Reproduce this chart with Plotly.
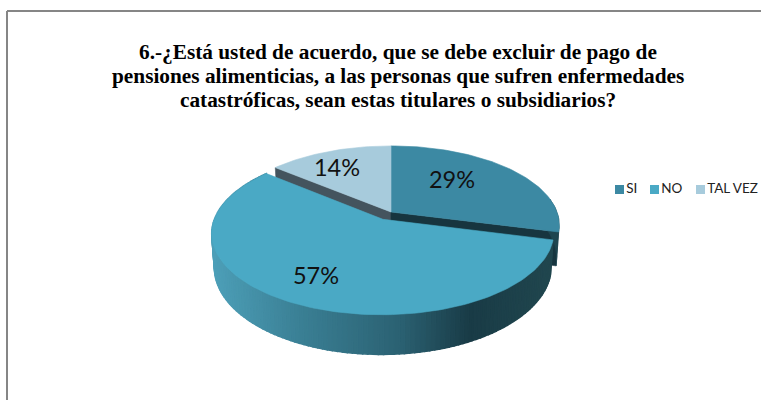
import math
import plotly.graph_objects as go

categories = ["SI", "NO", "TAL VEZ"]
values = [29, 57, 14]
labels = ["29%", "57%", "14%"]
title_lines = [
    "6.-¿Está usted de acuerdo, que se debe excluir de pago de",
    "pensiones alimenticias, a las personas que sufren enfermedades",
    "catastróficas, sean estas titulares o subsidiarios?",
]
face_colors = ["#3c89a3", "#4aa9c5", "#a7cbdc"]

W, H = 761, 400
CX, CY, R, A, K = 391, 212, 166, 77, 0.165
DROP, BOTTOM_SCALE, EXPLODE = 32.5, 0.985, 0.105
STEP = 1.5


def project(theta, r=1.0, off=(0.0, 0.0), z=0.0):
    t = math.radians(theta)
    x = r * math.sin(t) + off[0]
    y = r * math.cos(t) + off[1]
    d = 1 + K * y
    s = BOTTOM_SCALE if z else 1.0
    return CX + s * R * x / d, CY - A * y / d + z * DROP / d


def arc(a0, a1, off=(0.0, 0.0), z=0.0):
    n = max(2, int(abs(a1 - a0) / STEP) + 1)
    return [project(a0 + (a1 - a0) * i / (n - 1), 1.0, off, z) for i in range(n)]


def lerp_hex(stops, x):
    if x <= stops[0][0]:
        return stops[0][1]
    for (x0, c0), (x1, c1) in zip(stops, stops[1:]):
        if x <= x1:
            f = (x - x0) / (x1 - x0)
            a = [int(c0[i:i + 2], 16) for i in (1, 3, 5)]
            b = [int(c1[i:i + 2], 16) for i in (1, 3, 5)]
            return "rgb(%d,%d,%d)" % tuple(round(p + (q - p) * f) for p, q in zip(a, b))
    return stops[-1][1]


wall_stops = [(212, "#4d9fb8"), (300, "#3a7f94"), (400, "#2b6172"), (470, "#193b46"), (555, "#21474f")]

total = sum(values)
bounds = [0.0]
for v in values:
    bounds.append(bounds[-1] + 360.0 * v / total)
si0, si1 = bounds[0], bounds[1]
no0, no1 = bounds[1], bounds[2]
tv0, tv1 = bounds[2], bounds[3]
mid = math.radians((no0 + no1) / 2)
no_off = (EXPLODE * math.sin(mid), EXPLODE * math.cos(mid))

fig = go.Figure()


def poly(points, color, name=None, width=0.6):
    xs = [p[0] for p in points] + [points[0][0]]
    ys = [p[1] for p in points] + [points[0][1]]
    fig.add_trace(go.Scatter(x=xs, y=ys, mode="lines", fill="toself", fillcolor=color,
                             line=dict(color=color, width=width), hoverinfo="skip",
                             showlegend=False, name=name))


# cut faces and walls behind the exploded slice
apex = project(0, 0)
apex_low = project(0, 0, z=1)
poly([apex, project(tv0), project(tv0, z=1), apex_low], "#44545e")
poly([apex, project(si1), project(si1, z=1), apex_low], "#17353f")
poly(arc(80, si1) + arc(si1, 80, z=1), "#1f4650")

# wall of the exploded slice, in narrow strips for the shading
a = no0
while a < no1 - 1e-6:
    b = min(a + STEP, no1)
    p0, p1 = project(a, off=no_off), project(b, off=no_off)
    q1, q0 = project(b, off=no_off, z=1), project(a, off=no_off, z=1)
    poly([p0, p1, q1, q0], lerp_hex(wall_stops, (p0[0] + p1[0]) / 2), width=1.5)
    a = b

# top faces
poly([apex] + arc(si0, si1), face_colors[0], categories[0])
poly([apex] + arc(tv0, tv1), face_colors[2], categories[2])
poly([project(0, 0, no_off)] + arc(no0, no1, no_off), face_colors[1], categories[1])

# value labels
label_pos = [(452, 182), (316, 278), (337, 170)]
fig.add_trace(go.Scatter(x=[p[0] for p in label_pos], y=[p[1] for p in label_pos], mode="text",
                         text=labels, textposition="middle center",
                         textfont=dict(family="Lato", size=23.5, color="#111111"),
                         hoverinfo="skip", showlegend=False))

# legend
legend_x = [619.5, 654.5, 700.5]
legend_y = [189.5] * 3
fig.add_trace(go.Scatter(x=legend_x, y=legend_y, mode="markers+text", text=categories,
                         textposition="middle right",
                         marker=dict(symbol="square", size=9, color=face_colors),
                         textfont=dict(family="Lato", size=13.5, color="#222222"),
                         hoverinfo="skip", showlegend=False))

title_y = [52, 76, 99.5]
annotations = [dict(text="<b>%s</b>" % line, x=398, y=y, xref="x", yref="y", showarrow=False,
                    xanchor="center", yanchor="middle",
                    font=dict(family="Liberation Serif", size=21.3, color="black"))
               for line, y in zip(title_lines, title_y)]

fig.update_layout(
    width=W, height=H, margin=dict(l=0, r=0, t=0, b=0),
    paper_bgcolor="white", plot_bgcolor="white",
    xaxis=dict(range=[0, W], visible=False, fixedrange=True),
    yaxis=dict(range=[H, 0], visible=False, fixedrange=True),
    annotations=annotations,
    shapes=[dict(type="line", xref="x", yref="y", x0=7, y0=11, x1=W, y1=11, line=dict(color="#868686", width=2)),
            dict(type="line", xref="x", yref="y", x0=7, y0=11, x1=7, y1=H, line=dict(color="#868686", width=2))],
)
fig.write_html("out.html", config=dict(displayModeBar=False),
               post_script="document.body.style.margin='0';document.documentElement.style.overflow='hidden';")
